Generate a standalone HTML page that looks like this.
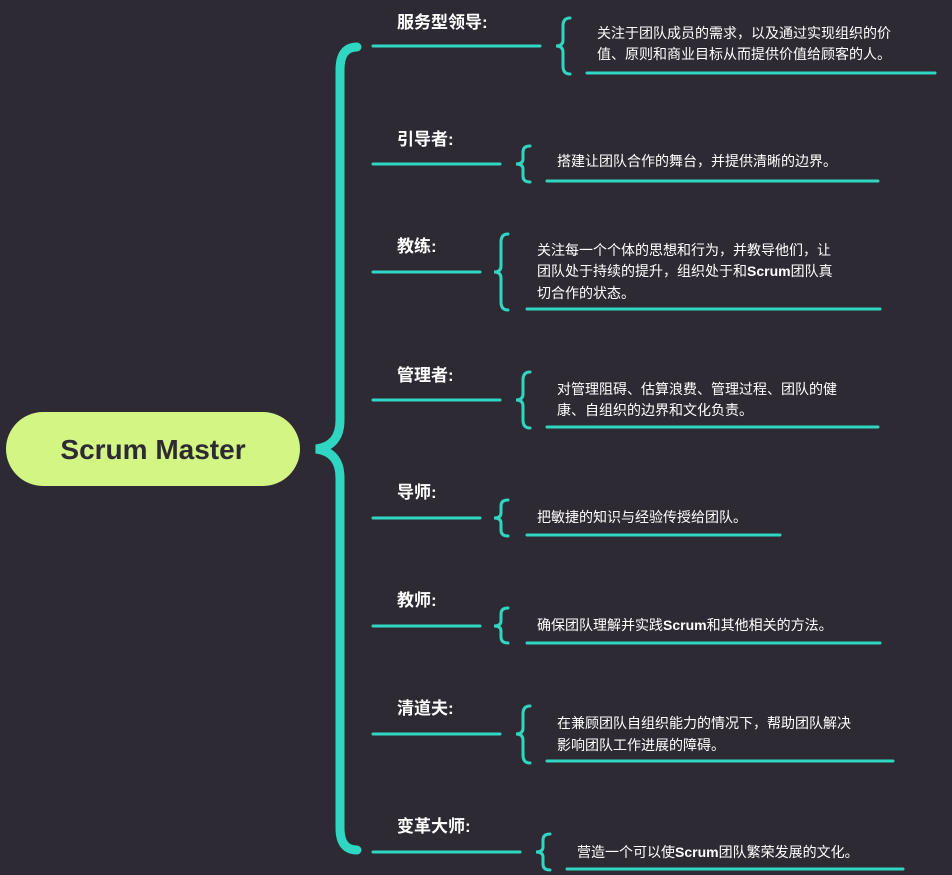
<!DOCTYPE html>
<html><head><meta charset="utf-8"><style>
html,body{margin:0;padding:0;background:#2e2a33;}
svg{display:block}
.l{font-family:"Liberation Sans","Noto Sans CJK SC",sans-serif;font-weight:bold;font-size:17px;fill:#fff}
.t{font-family:"Liberation Sans","Noto Sans CJK SC",sans-serif;font-size:14px;fill:#fff}
</style></head><body>
<svg width="952" height="875" viewBox="0 0 952 875" xmlns="http://www.w3.org/2000/svg">
<rect width="952" height="875" fill="#2e2a33"/>
<path d="M357,47 Q340,47 340,70 L340,420 Q340,446 316,449 Q340,452 340,478 L340,828 Q340,850 357,850" fill="none" stroke="#2fd6c1" stroke-width="9" stroke-linecap="round"/>
<rect x="6" y="412" width="294" height="74" rx="37" fill="#d2f584"/>
<text x="153" y="459" text-anchor="middle" font-family="Liberation Sans,sans-serif" font-weight="bold" font-size="28" fill="#2e2a33">Scrum Master</text>
<g stroke="#2fd6c1" stroke-width="3" fill="none" stroke-linecap="round">
<line x1="373" y1="46" x2="540" y2="46"/><line x1="587" y1="73" x2="935" y2="73"/>
<path d="M570,18 Q563,18 563,26 L563,40 Q563,46 556,46 Q563,46 563,52 L563,66 Q563,74 570,74"/>
<line x1="373" y1="164" x2="500" y2="164"/><line x1="547" y1="181" x2="878" y2="181"/>
<path d="M530,146 Q523,146 523,152 L523,159 Q523,164 516,164 Q523,164 523,169 L523,176 Q523,182 530,182"/>
<line x1="373" y1="272" x2="480" y2="272"/><line x1="527" y1="309" x2="880" y2="309"/>
<path d="M508,234 Q501,234 501,242 L501,266 Q501,272 494,272 Q501,272 501,278 L501,302 Q501,310 508,310"/>
<line x1="373" y1="400" x2="500" y2="400"/><line x1="547" y1="427" x2="878" y2="427"/>
<path d="M530,372 Q523,372 523,380 L523,394 Q523,400 516,400 Q523,400 523,406 L523,420 Q523,428 530,428"/>
<line x1="373" y1="518" x2="480" y2="518"/><line x1="527" y1="535" x2="780" y2="535"/>
<path d="M508,500 Q501,500 501,506 L501,513 Q501,518 494,518 Q501,518 501,523 L501,530 Q501,536 508,536"/>
<line x1="373" y1="626" x2="480" y2="626"/><line x1="527" y1="643" x2="880" y2="643"/>
<path d="M508,608 Q501,608 501,614 L501,621 Q501,626 494,626 Q501,626 501,631 L501,637 Q501,643 508,643"/>
<line x1="373" y1="734" x2="500" y2="734"/><line x1="547" y1="761" x2="893" y2="761"/>
<path d="M530,706 Q523,706 523,714 L523,728 Q523,734 516,734 Q523,734 523,740 L523,755 Q523,763 530,763"/>
<line x1="373" y1="852" x2="520" y2="852"/><line x1="567" y1="869" x2="903" y2="869"/>
<path d="M550,834 Q543,834 543,840 L543,847 Q543,852 536,852 Q543,852 543,857 L543,864 Q543,870 550,870"/>
</g>
<text class="l" x="397" y="28">服务型领导:</text>
<text class="t" x="597" y="38">关注于团队成员的需求，以及通过实现组织的价</text>
<text class="t" x="597" y="59">值、原则和商业目标从而提供价值给顾客的人。</text>
<text class="l" x="397" y="145">引导者:</text>
<text class="t" x="557" y="166">搭建让团队合作的舞台，并提供清晰的边界。</text>
<text class="l" x="397" y="252">教练:</text>
<text class="t" x="537" y="255">关注每一个个体的思想和行为，并教导他们，让</text>
<text class="t" x="537" y="276">团队处于持续的提升，组织处于和<tspan font-weight="bold">Scrum</tspan>团队真</text>
<text class="t" x="537" y="298">切合作的状态。</text>
<text class="l" x="397" y="381">管理者:</text>
<text class="t" x="557" y="394">对管理阻碍、估算浪费、管理过程、团队的健</text>
<text class="t" x="557" y="415">康、自组织的边界和文化负责。</text>
<text class="l" x="397" y="498">导师:</text>
<text class="t" x="537" y="522">把敏捷的知识与经验传授给团队。</text>
<text class="l" x="397" y="606">教师:</text>
<text class="t" x="537" y="630">确保团队理解并实践<tspan font-weight="bold">Scrum</tspan>和其他相关的方法。</text>
<text class="l" x="397" y="714">清道夫:</text>
<text class="t" x="557" y="728">在兼顾团队自组织能力的情况下，帮助团队解决</text>
<text class="t" x="557" y="750">影响团队工作进展的障碍。</text>
<text class="l" x="397" y="832">变革大师:</text>
<text class="t" x="577" y="857">营造一个可以使<tspan font-weight="bold">Scrum</tspan>团队繁荣发展的文化。</text>
</svg>
</body></html>
